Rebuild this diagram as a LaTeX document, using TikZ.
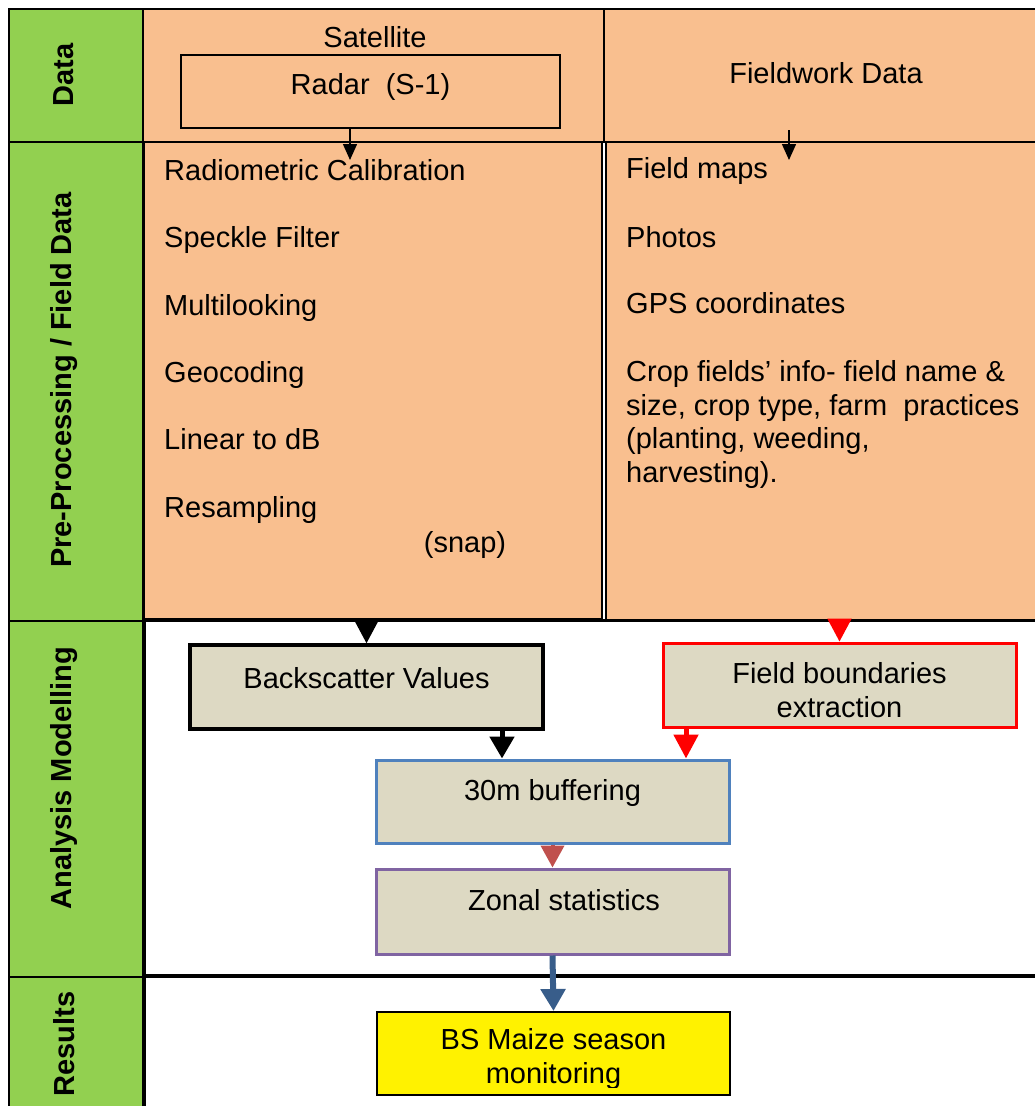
\documentclass[tikz,border=0pt]{standalone}
\usepackage{fontspec}
\setmainfont{Liberation Sans}
\usetikzlibrary{arrows.meta}
\definecolor{greenc}{HTML}{92D050}
\definecolor{orangec}{HTML}{F9BF8F}
\definecolor{boxc}{HTML}{DDD9C3}
\definecolor{blueb}{HTML}{4F81BD}
\definecolor{purpleb}{HTML}{8064A2}
\definecolor{redb}{HTML}{FF0000}
\definecolor{brickc}{HTML}{C0504D}
\definecolor{bluea}{HTML}{385D8A}
\begin{document}
\begin{tikzpicture}[x=1pt,y=-1pt,
  every node/.style={font=\fontsize{29}{33.5}\selectfont},
  cell/.style={draw=black, line width=1.5pt, fill=orangec, anchor=north west, inner sep=0pt},
  gcell/.style={draw=black, line width=1.5pt, fill=greenc, anchor=north west, inner sep=0pt, minimum width=134pt},
  glabel/.style={rotate=90, inner sep=0pt, font=\fontsize{29}{33.5}\selectfont\bfseries},
  item/.style={anchor=base west, inner sep=0pt},
  procbox/.style={fill=boxc, minimum width=353pt, minimum height=84pt, line width=3pt, inner sep=0pt, align=center},
  smallarrow/.style={-{Triangle[width=14pt,length=16pt]}, line width=1.5pt},
  bigarrow/.style={-{Triangle[width=24pt,length=23pt]}, line width=2pt}
]
\useasboundingbox (0,0) rectangle (1035,1106);
\fill[white] (0,0) rectangle (1035,1106);

% green lane headers
\node[gcell, minimum height=133pt] (g1) at (8,8) {};
\node[gcell, minimum height=479pt] (g2) at (8,141) {};
\node[gcell, minimum height=356pt] (g3) at (8,620) {};
\node[gcell, minimum height=140pt] (g4) at (8,976) {};
\node[glabel] (l1) at (64,75) {Data};
\node[glabel] (l2) at (64,380) {Pre-Processing / Field Data};
\node[glabel] (l3) at (64,778) {Analysis Modelling};
\node[glabel] (l4) at (64,1044) {Results};

% orange cells
\node[cell, minimum width=461pt, minimum height=133pt] (satcell) at (142,8) {};
\node[cell, minimum width=432pt, minimum height=133pt] (fwcell) at (603,8) {};
\node[cell, minimum width=458pt, minimum height=477pt] (ppl) at (143,141) {};
\node[cell, minimum width=432pt, minimum height=479pt] (ppr) at (605,141) {};

% analysis / results frame lines
\draw[line width=3pt] (145,620) -- (1035,620);
\draw[line width=1.5pt] (145,620) -- (145,1106);
\draw[line width=3.5pt] (143,976) -- (1035,976);

% data row
\node[anchor=base, inner sep=0pt] (sat) at (375,47) {Satellite};
\node[draw, line width=1.5pt, minimum width=379pt, minimum height=73pt, text height=21pt, text depth=16pt, inner sep=0pt] (radar) at (370.5,91.5) {Radar\ \ (S-1)};
\node[anchor=base, inner sep=0pt] (fw) at (826,83) {Fieldwork Data};

% pre-processing list
\node[item] (p1) at (164,180) {Radiometric Calibration};
\node[item] (p2) at (164,247) {Speckle Filter};
\node[item] (p3) at (164,315) {Multilooking};
\node[item] (p4) at (164,382) {Geocoding};
\node[item] (p5) at (164,449) {Linear to dB};
\node[item] (p6) at (164,517) {Resampling};
\node[anchor=base, inner sep=0pt] (p7) at (465,552) {(snap)};

% field data list
\node[item] (f1) at (626,178) {Field maps};
\node[item] (f2) at (626,247) {Photos};
\node[item] (f3) at (626,313) {GPS coordinates};
\node[item, align=left] (f4) at (626,482) {Crop fields’ info- field name \&\\size, crop type, farm\ \ practices\\(planting, weeding,\\harvesting).};

% analysis boxes
\node[procbox, draw=black, line width=3.5pt, text height=21pt, text depth=19pt] (back) at (366.5,687) {Backscatter Values};
\node[procbox, draw=redb, text height=64pt, text depth=0pt] (fb) at (839.5,685) {Field boundaries\\extraction};
\node[procbox, draw=blueb, minimum height=83pt, text height=21pt, text depth=24pt] (buf) at (552.5,801.5) {30m buffering};
\node[procbox, draw=purpleb, minimum height=85pt, text height=21pt, text depth=24pt] (zonal) at (552.5,911.5) {\hspace*{23pt}Zonal statistics};

% results box
\node[fill=yellow, draw=black, line width=2pt, minimum width=353pt, minimum height=83pt, inner sep=0pt] (bs) at (553.5,1053.5) {};
\begin{scope}
\clip (bs.north west) rectangle ([yshift=9pt]bs.south east);
\node[align=center, inner sep=0pt] (bstext) at (553.5,1059) {BS Maize season\\monitoring};
\end{scope}

% connectors
\coordinate (ax1) at (350,160);
\coordinate (fw1) at (789,130);
\coordinate (fw2) at (789,160);
\coordinate (bx) at (502,0);
\coordinate (rx) at (686,0);
\draw[smallarrow] (radar.south -| ax1) -- (ax1);
\draw[smallarrow] (fw1) -- (fw2);
\draw[bigarrow, black] (ppl.south -| back.north) -- (back.north);
\draw[bigarrow, redb] (ppr.south -| fb.north) -- (fb.north);
\draw[-{Triangle[width=24pt,length=22pt]}, line width=5pt, black] (back.south -| bx) -- (buf.north -| bx);
\draw[-{Triangle[width=24pt,length=24pt]}, line width=5pt, redb] (fb.south -| rx) -- (buf.north -| rx);
\draw[-{Triangle[width=23pt,length=22pt]}, line width=4pt, brickc] (buf.south) -- (zonal.north);
\draw[-{Triangle[width=24pt,length=22pt]}, line width=6pt, bluea] (zonal.south) -- (bs.north);
\end{tikzpicture}
\end{document}
